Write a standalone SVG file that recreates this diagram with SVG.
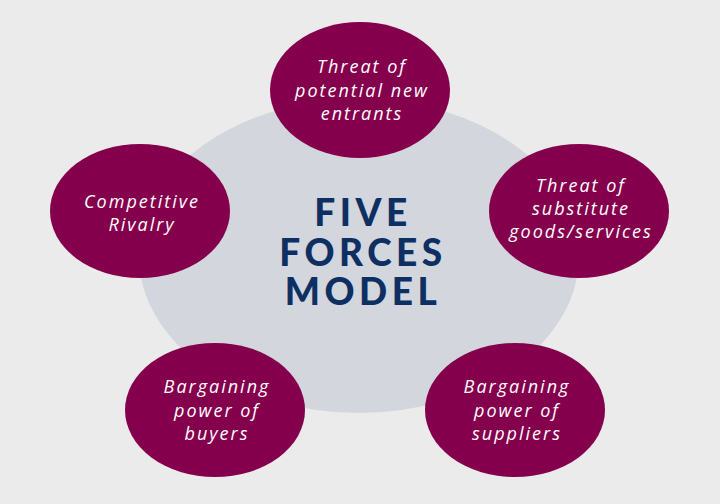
<svg xmlns="http://www.w3.org/2000/svg" width="720" height="504" viewBox="0 0 720 504">
<style>
.bg{fill:#ebebeb}
.hub{fill:#d3d6dd}
.force{fill:#85004c}
.lbl{font-family:"Open Sans","Noto Sans","DejaVu Sans",sans-serif;font-style:italic;font-size:18px;letter-spacing:2px;fill:#ffffff;text-anchor:middle}
.title{font-family:Lato,"Open Sans","DejaVu Sans",sans-serif;font-weight:900;font-size:37px;letter-spacing:4.5px;fill:#0e2f62;text-anchor:middle}
</style>
<rect class="bg" x="0" y="0" width="720" height="504"/>
<g id="connectors"></g>
<g id="center">
<ellipse class="hub" cx="359" cy="256" rx="220" ry="157"/>
<text class="title"><tspan x="363" y="226">FIVE</tspan><tspan x="363" y="266">FORCES</tspan><tspan x="363" y="305">MODEL</tspan></text>
</g>
<g id="new-entrants">
<ellipse class="force" cx="360" cy="90" rx="90" ry="68"/>
<text class="lbl" x="362" y="73">Threat of</text>
<text class="lbl" x="362" y="97">potential new</text>
<text class="lbl" x="362" y="120">entrants</text>
</g>
<g id="rivalry">
<ellipse class="force" cx="140" cy="211" rx="90" ry="67"/>
<text class="lbl" x="142" y="208">Competitive</text>
<text class="lbl" x="142" y="231">Rivalry</text>
</g>
<g id="substitutes">
<ellipse class="force" cx="579" cy="211" rx="90" ry="67"/>
<text class="lbl" x="581" y="192">Threat of</text>
<text class="lbl" x="581" y="215">substitute</text>
<text class="lbl" x="581" y="238">goods/services</text>
</g>
<g id="buyers">
<ellipse class="force" cx="215" cy="410" rx="90" ry="67"/>
<text class="lbl" x="217" y="393">Bargaining</text>
<text class="lbl" x="217" y="417">power of</text>
<text class="lbl" x="217" y="440">buyers</text>
</g>
<g id="suppliers">
<ellipse class="force" cx="515" cy="410" rx="90" ry="67"/>
<text class="lbl" x="517" y="393">Bargaining</text>
<text class="lbl" x="517" y="417">power of</text>
<text class="lbl" x="517" y="440">suppliers</text>
</g>
</svg>
